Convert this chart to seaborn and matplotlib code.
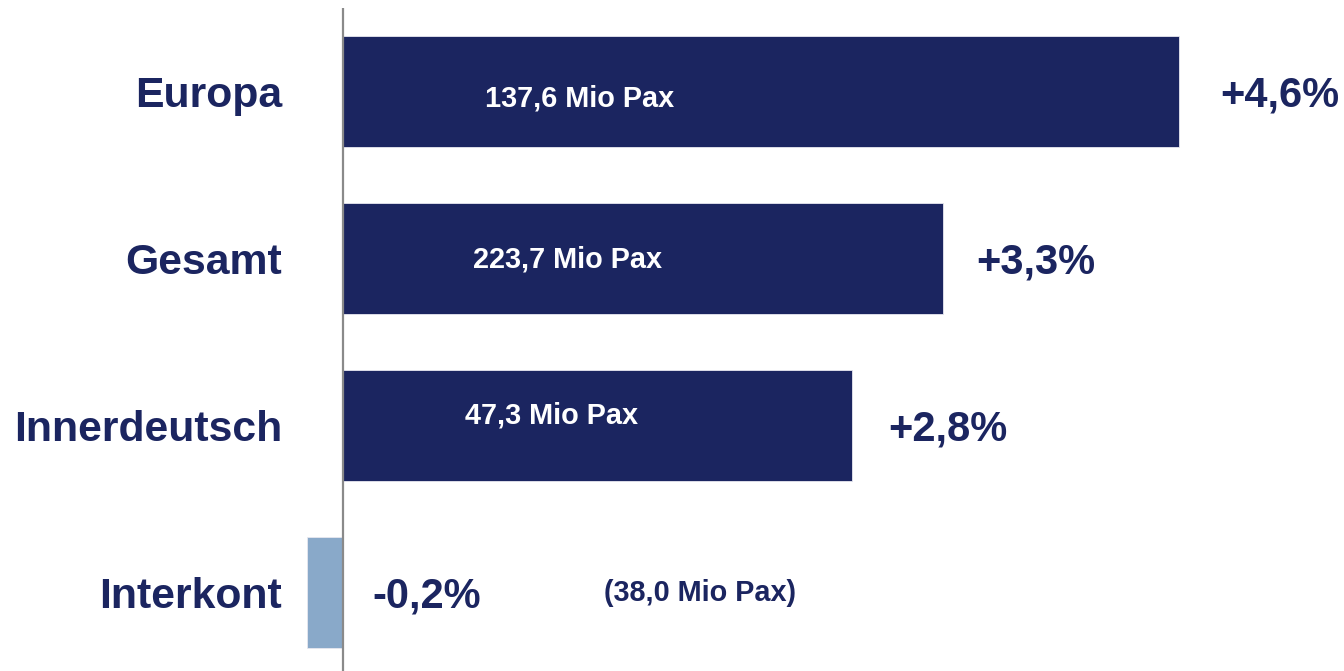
import matplotlib
matplotlib.use("Agg")
import matplotlib.pyplot as plt
import seaborn as sns
import pandas as pd

categories = ['Europa', 'Gesamt', 'Innerdeutsch', 'Interkont']
growth = [4.6, 3.3, 2.8, -0.2]
pax_mio = [137.6, 223.7, 47.3, 38.0]

# label placement (offset points), as in the original slide
pct_offset = [29.5, 24.5, 26, 21]
pax_offset = [(102, -4.7), (93.6, -1), (87.8, 7.2), (188, 0)]

NAVY = '#1b2560'
LIGHT = '#89a9c9'


def de_num(v, fmt):
    return format(v, fmt).replace('.', ',')


def main():
    sns.set_style('white')
    plt.rcParams['font.family'] = ['Liberation Sans', 'DejaVu Sans']

    df = pd.DataFrame({'cat': categories, 'growth': growth, 'pax': pax_mio})
    palette = {c: (NAVY if g >= 0 else LIGHT) for c, g in zip(categories, growth)}

    fig = plt.figure(figsize=(13.44, 6.71), dpi=100)
    ax = fig.add_axes([300 / 1344, 0, 1044 / 1344, 663 / 671])

    sns.barplot(data=df, y='cat', x='growth', hue='cat', palette=palette,
                orient='h', width=0.665, legend=False, ax=ax,
                edgecolor='#e8e8f0', linewidth=0.6, saturation=1)

    ax.set_xlim(-0.2367, 5.509)
    ax.set_ylim(3.47, -0.5)
    ax.axvline(0, color='#8a8a8a', lw=1.6, zorder=5)
    for s in ax.spines.values():
        s.set_visible(False)
    ax.set_xticks([])
    ax.set_xlabel('')
    ax.set_ylabel('')
    ax.tick_params(axis='y', length=0, pad=13)
    for lbl in ax.get_yticklabels():
        lbl.set_fontsize(30.8)
        lbl.set_fontweight('bold')
        lbl.set_color(NAVY)

    for i, row in df.iterrows():
        sign = '+' if row['growth'] > 0 else '-'
        pct = sign + de_num(abs(row['growth']), '.1f') + '%'
        ax.annotate(pct, xy=(max(row['growth'], 0), i), xytext=(pct_offset[i], -3),
                    textcoords='offset points', ha='left', va='center',
                    fontsize=30, fontweight='bold', color=NAVY)
        pax = de_num(row['pax'], '.1f') + ' Mio Pax'
        if row['growth'] >= 0:
            ax.annotate(pax, xy=(0, i), xytext=pax_offset[i],
                        textcoords='offset points', ha='left', va='center',
                        fontsize=20.8, fontweight='bold', color='white')
        else:
            ax.annotate('(' + pax + ')', xy=(0, i), xytext=pax_offset[i],
                        textcoords='offset points', ha='left', va='center',
                        fontsize=20.8, fontweight='bold', color=NAVY)

    fig.savefig('out.png', dpi=100)


if __name__ == '__main__':
    main()
